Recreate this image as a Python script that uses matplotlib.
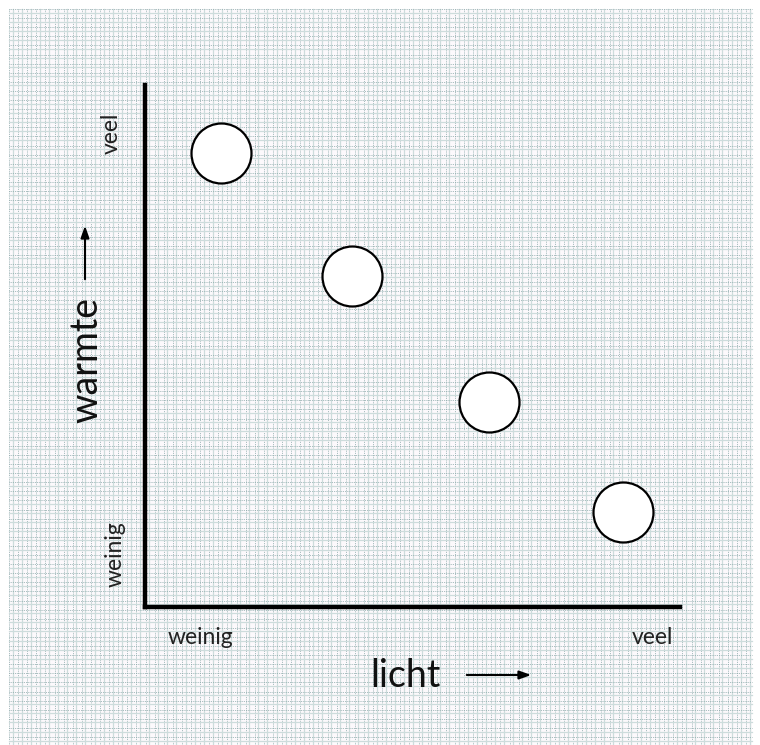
import matplotlib
matplotlib.use("Agg")
import matplotlib.pyplot as plt
import numpy as np

# data (licht vs warmte, arbitrary 0-10 scale)
licht = [1.42, 3.87, 6.43, 8.93]
warmte = [8.70, 6.34, 3.93, 1.82]
x_labels = ["weinig", "veel"]
y_labels = ["weinig", "veel"]
x_title = "licht"
y_title = "warmte"

W, H = 760, 745
fig = plt.figure(figsize=(W / 100, H / 100), dpi=100)
fig.patch.set_facecolor("white")

# background graph paper in pixel coordinates
bg = fig.add_axes([0, 0, 1, 1])
bg.set_xlim(0, W)
bg.set_ylim(H, 0)
bg.axis("off")
gx0, gx1, gy0, gy1 = 9, 752, 9, 745
bg.add_patch(plt.Rectangle((gx0, gy0), gx1 - gx0, gy1 - gy0,
                           facecolor="#fcf9fc", edgecolor="none", zorder=0))
step = 9.1
off = 3.6
xs = np.arange(gx0, gx1 + 0.1, step)
ys = np.arange(gy0, gy1 + 0.1, step)
for x in xs:
    bg.plot([x, x], [gy0, gy1], color="#8aa9a9", lw=0.6, ls=(0, (1, 1.2)), zorder=1)
    if x + off < gx1:
        bg.plot([x + off, x + off], [gy0, gy1], color="#cddcdc", lw=0.9, zorder=1)
for y in ys:
    bg.plot([gx0, gx1], [y, y], color="#8aa9a9", lw=0.6, ls=(0, (1, 1.2)), zorder=1)
    if y + off < gy1:
        bg.plot([gx0, gx1], [y + off, y + off], color="#cddcdc", lw=0.9, zorder=1)

font = "Lato"

# texts and arrows
bg.text(111, 133, y_labels[1], rotation=90, ha="center", va="center",
        fontsize=16.5, family=font, color="#222222")
bg.text(115, 554, y_labels[0], rotation=90, ha="center", va="center",
        fontsize=16.5, family=font, color="#222222")
bg.text(200, 637, x_labels[0], ha="center", va="center",
        fontsize=16.5, family=font, color="#222222")
bg.text(652, 637, x_labels[1], ha="center", va="center",
        fontsize=16.5, family=font, color="#222222")
bg.text(405, 676, x_title, ha="center", va="center",
        fontsize=27, family=font, color="#111111")
bg.text(86, 360, y_title, rotation=90, ha="center", va="center",
        fontsize=27, family=font, color="#111111")
bg.annotate("", xy=(534, 675), xytext=(464, 675),
            arrowprops=dict(arrowstyle="-|>,head_length=0.7,head_width=0.25",
                            color="black", lw=1.5))
bg.annotate("", xy=(85, 223), xytext=(85, 282),
            arrowprops=dict(arrowstyle="-|>,head_length=0.7,head_width=0.25",
                            color="black", lw=1.5))

# data axes
left, right, top, bottom = 145, 680, 85, 607
ax = fig.add_axes([left / W, 1 - bottom / H, (right - left) / W, (bottom - top) / H])
ax.patch.set_alpha(0)
ax.set_xlim(0, 10)
ax.set_ylim(0, 10)
for s in ["top", "right"]:
    ax.spines[s].set_visible(False)
for s in ["left", "bottom"]:
    ax.spines[s].set_linewidth(3.2)
    ax.spines[s].set_color("black")
ax.set_xticks([])
ax.set_yticks([])
ax.scatter(licht, warmte, s=1866, facecolor="white", edgecolor="black",
           linewidth=1.6, zorder=3, clip_on=False)

fig.savefig("out.png", dpi=100)
